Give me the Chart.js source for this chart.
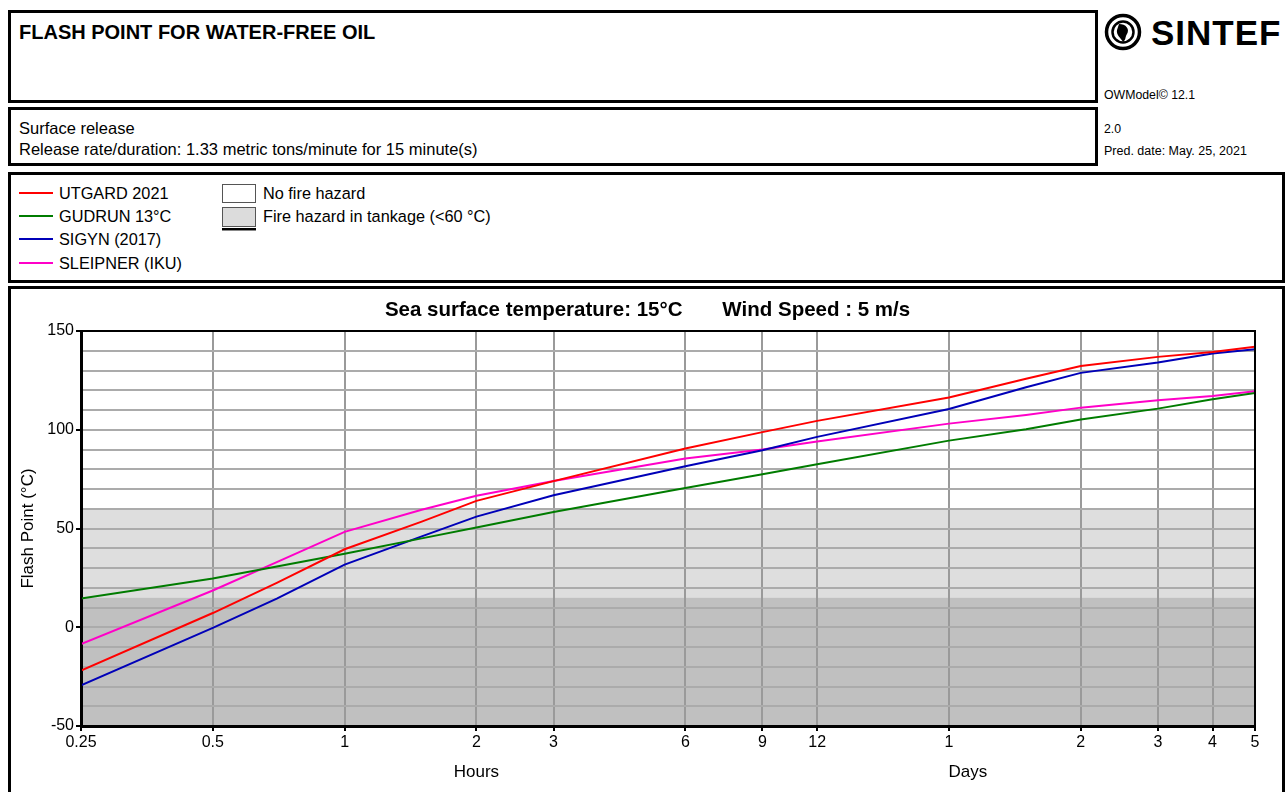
<!DOCTYPE html>
<html>
<head>
<meta charset="utf-8">
<script src="https://cdn.jsdelivr.net/npm/chart.js@4"></script>
<style>
  body { margin: 0; width: 1287px; height: 792px; overflow: hidden; position: relative; background: #fff;
         font-family: 'Liberation Sans', Arial, sans-serif; color: #000; }
  .box { position: absolute; border: 3px solid #000; box-sizing: border-box; }
  .txt { position: absolute; white-space: nowrap; line-height: 20px; }
  .swatch { position: absolute; left: 19px; width: 34px; height: 2px; }
  .hbox { position: absolute; left: 222px; width: 34px; box-sizing: border-box; border: 1.5px solid #555; }
  #chartWrap { position: absolute; left: 11px; top: 289px; width: 1271px; height: 503px; }
</style>
</head>
<body>

<!-- header boxes -->
<div class="box" style="left:8px; top:10px; width:1090px; height:93px;"></div>
<div class="box" style="left:8px; top:107px; width:1090px; height:59px;"></div>
<div class="box" style="left:8px; top:172px; width:1277px; height:111px;"></div>
<div class="box" style="left:8px; top:286px; width:1277px; height:520px;"></div>

<div class="txt" style="left:19px; top:22px; font-weight:bold; font-size:20px;">FLASH POINT FOR WATER-FREE OIL</div>
<div class="txt" style="left:19px; top:118px; font-size:16.5px;">Surface release</div>
<div class="txt" style="left:19px; top:139px; font-size:16.5px;">Release rate/duration: 1.33 metric tons/minute for 15 minute(s)</div>

<!-- logo + model info -->
<svg style="position:absolute; left:1104px; top:13px;" width="40" height="40" viewBox="0 0 40 40">
  <circle cx="19" cy="19" r="16.5" fill="none" stroke="#000" stroke-width="3.5"/>
  <circle cx="19" cy="19" r="10.5" fill="none" stroke="#000" stroke-width="2.5"/>
  <path d="M15 11 C22 11 26 16 23 21 C21 24 22 27 19 29 C17 25 12 22 13 17 Z" fill="#000"/>
</svg>
<div class="txt" style="left:1151px; top:14px; font-weight:bold; font-size:35px; line-height:38px; letter-spacing:1px;">SINTEF</div>
<div class="txt" style="left:1104px; top:85px; font-size:12.3px;">OWModel© 12.1</div>
<div class="txt" style="left:1104px; top:119px; font-size:12.3px;">2.0</div>
<div class="txt" style="left:1104px; top:141px; font-size:12.5px;">Pred. date: May. 25, 2021</div>

<!-- legend -->
<div id="legend"></div>
<div class="hbox" style="top:184px; height:19px; background:#fff;"></div>
<div class="hbox" style="top:207px; height:20px; background:#dcdcdc;"></div>
<div style="position:absolute; left:222px; top:228px; width:34px; height:2px; background:#000;"></div>
<div style="position:absolute; left:222px; top:230px; width:34px; height:1px; background:#888;"></div>
<div class="txt" style="left:263px; top:183px; font-size:16.3px;">No fire hazard</div>
<div class="txt" style="left:263px; top:206px; font-size:16.3px;">Fire hazard in tankage (&lt;60 °C)</div>

<div id="chartWrap"><canvas id="flashChart"></canvas></div>

<script>
// time since release, hours (log axis)
const timesHours = [0.25, 0.5, 0.7, 1, 1.5, 2, 3, 6, 9, 12, 24, 36, 48, 72, 96, 120];

// flash point, degC
const utgard   = [-22, 7.2, 22.5, 39.5, 53.5, 64, 74, 90.5, 98.8, 104.5, 116.3, 125.8, 132.3, 136.9, 139.4, 142];
const gudrun   = [14.6, 24.7, 30.8, 37.2, 45, 50.5, 58.4, 70.5, 77.5, 82.5, 94.5, 100.3, 105.2, 110.7, 115.4, 118.6];
const sigyn    = [-29.4, -0.3, 14.5, 31.7, 46, 56, 66.8, 81.5, 89.6, 96.4, 110.5, 121.5, 128.8, 134, 138.6, 140.8];
const sleipner = [-8.5, 18.6, 33, 48.3, 59.5, 66.6, 74, 85.4, 90, 94, 103.1, 107.5, 111.2, 114.9, 117.1, 119.5];

const seriesNames  = ['UTGARD 2021', 'GUDRUN 13°C', 'SIGYN (2017)', 'SLEIPNER (IKU)'];
const seriesColors = ['#ff0000', '#007c00', '#0000b8', '#ff00c8'];

// x axis ticks (hours) and what is printed under them
const xTickValues = [0.25, 0.5, 1, 2, 3, 6, 9, 12, 24, 48, 72, 96, 120];
const xTickLabels = ['0.25', '0.5', '1', '2', '3', '6', '9', '12', '1', '2', '3', '4', '5'];

// hazard bands (degC)
const tankageLimit = 60;
const seaTemp = 15;

const chartTitle = 'Sea surface temperature: 15°C       Wind Speed : 5 m/s';
const FONT = "'Liberation Sans', Arial, sans-serif";

// html legend for the oils
const legend = document.getElementById('legend');
seriesNames.forEach(function(name, i) {
    const cy = [193, 216, 239, 263][i];
    legend.insertAdjacentHTML('beforeend',
        '<div class="swatch" style="top:' + (cy - 1) + 'px; background:' + seriesColors[i] + ';"></div>' +
        '<div class="txt" style="left:59px; top:' + (cy - 10) + 'px; font-size:16.3px;">' + name + '</div>');
});

// shaded fire hazard zones behind the grid, frame + captions on top
const bandsPlugin = {
    id: 'bands',
    beforeDraw(chart) {
        const {ctx, chartArea: a, scales: {y}} = chart;
        const yTop = y.getPixelForValue(tankageLimit);
        const yMid = y.getPixelForValue(seaTemp);
        ctx.save();
        ctx.fillStyle = '#dedede';
        ctx.fillRect(a.left, yTop, a.right - a.left, yMid - yTop);
        ctx.fillStyle = '#c0c0c0';
        ctx.fillRect(a.left, yMid, a.right - a.left, a.bottom - yMid);
        ctx.restore();
    },
    afterDraw(chart) {
        const {ctx, chartArea: a, scales: {x}} = chart;
        ctx.save();
        ctx.strokeStyle = '#000';
        ctx.lineWidth = 2;
        ctx.strokeRect(a.left, a.top, a.right - a.left, a.bottom - a.top);

        ctx.fillStyle = '#000';
        ctx.textAlign = 'center';
        ctx.textBaseline = 'middle';
        ctx.font = 'bold 20.5px ' + FONT;
        ctx.fillText(chartTitle, chart.width / 2 + 1, 21);

        // unit captions under the time axis
        ctx.font = '17px ' + FONT;
        ctx.fillText('Hours', x.getPixelForValue(2), a.bottom + 46);
        ctx.fillText('Days', x.getPixelForValue(26.5), a.bottom + 46);
        ctx.restore();
    }
};

const allSeries = [utgard, gudrun, sigyn, sleipner];

new Chart(document.getElementById('flashChart'), {
    type: 'line',
    data: {
        datasets: allSeries.map(function(values, i) {
            return {
                label: seriesNames[i],
                data: timesHours.map((t, j) => ({x: t, y: values[j]})),
                borderColor: seriesColors[i],
                borderWidth: 2,
                pointRadius: 0,
                tension: 0,
                fill: false
            };
        })
    },
    options: {
        responsive: true,
        maintainAspectRatio: false,
        animation: false,
        layout: { padding: { left: 0, right: 27, top: 42, bottom: 0 } },
        plugins: {
            legend: { display: false },
            tooltip: { enabled: false },
            title: { display: false }
        },
        scales: {
            x: {
                type: 'logarithmic',
                min: 0.25,
                max: 120,
                afterBuildTicks: function(scale) {
                    scale.ticks = xTickValues.map(v => ({value: v}));
                },
                afterFit: function(scale) { scale.height = 66; },
                ticks: {
                    autoSkip: false,
                    maxRotation: 0,
                    padding: 2,
                    color: '#000',
                    font: { family: FONT, size: 16 },
                    callback: function(value, index) { return xTickLabels[index]; }
                },
                grid: { color: '#9a9a9a', lineWidth: 2, tickLength: 5, tickColor: '#000', tickWidth: 2 },
                border: { color: '#000', width: 3 }
            },
            y: {
                min: -50,
                max: 150,
                afterFit: function(scale) { scale.width = 70; },
                ticks: {
                    stepSize: 10,
                    autoSkip: false,
                    padding: 2,
                    color: '#000',
                    font: { family: FONT, size: 16 },
                    callback: function(value) { return value % 50 === 0 ? value : ''; }
                },
                grid: {
                    color: '#ababab',
                    lineWidth: 2,
                    tickLength: 5,
                    tickWidth: 2,
                    tickColor: ctx => (ctx.tick && ctx.tick.value % 50 === 0) ? '#000' : 'rgba(0,0,0,0)'
                },
                border: { color: '#000', width: 3 },
                title: {
                    display: true,
                    text: 'Flash Point (°C)',
                    color: '#000',
                    font: { family: FONT, size: 17 },
                    padding: { top: 7, bottom: 0 }
                }
            }
        }
    },
    plugins: [bandsPlugin]
});
</script>
</body>
</html>
